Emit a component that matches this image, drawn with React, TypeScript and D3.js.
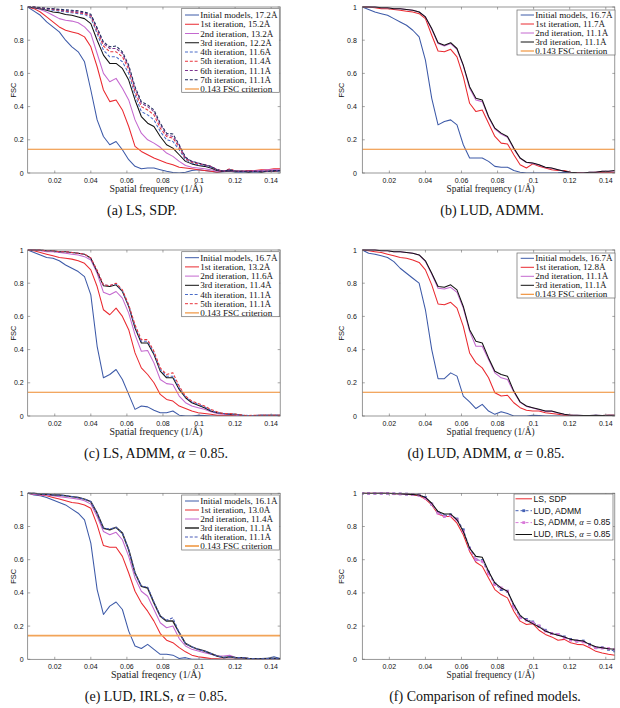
import React from 'react';
import * as d3 from 'd3';

// ---------- data ----------
const FREQ = [0.005, 0.0085, 0.012, 0.0155, 0.019, 0.0225, 0.026, 0.0295, 0.033, 0.0365, 0.04, 0.0435, 0.047, 0.0505, 0.054, 0.0575, 0.061, 0.0645, 0.068, 0.0715, 0.075, 0.0785, 0.082, 0.0855, 0.089, 0.0925, 0.096, 0.0995, 0.103, 0.1065, 0.11, 0.1135, 0.117, 0.1205, 0.124, 0.1275, 0.131, 0.1345, 0.138, 0.1415, 0.145];
const X_TICKS = [0.02, 0.04, 0.06, 0.08, 0.1, 0.12, 0.14];
const X_TICK_LABELS = ['0.02', '0.04', '0.06', '0.08', '0.1', '0.12', '0.14'];
const Y_TICKS = [0, 0.2, 0.4, 0.6, 0.8, 1];
const Y_TICK_LABELS = ['0', '0.2', '0.4', '0.6', '0.8', '1'];
const CRITERION = 0.143;

// (a) LS, SDP
const A_INIT = [1.0, 0.975, 0.95, 0.91, 0.88, 0.85, 0.80, 0.76, 0.73, 0.67, 0.50, 0.32, 0.22, 0.17, 0.19, 0.14, 0.08, 0.04, 0.025, 0.03, 0.03, 0.02, 0.01, 0.003, 0.0, 0.005, 0.015, 0.02, 0.015, 0.01, 0.005, 0.008, 0.01, 0.005, 0.005, 0.008, 0.005, 0.008, 0.01, 0.01, 0.01];
const A_IT1 = [1.0, 0.99, 0.97, 0.94, 0.91, 0.88, 0.86, 0.85, 0.84, 0.82, 0.76, 0.64, 0.50, 0.43, 0.44, 0.38, 0.28, 0.16, 0.13, 0.11, 0.09, 0.075, 0.06, 0.05, 0.035, 0.03, 0.025, 0.02, 0.015, 0.01, 0.005, 0.01, 0.015, 0.01, 0.01, 0.015, 0.015, 0.02, 0.02, 0.025, 0.025];
const A_IT2 = [1.0, 0.995, 0.985, 0.97, 0.95, 0.93, 0.92, 0.915, 0.905, 0.88, 0.84, 0.72, 0.60, 0.55, 0.57, 0.51, 0.44, 0.32, 0.24, 0.20, 0.18, 0.155, 0.12, 0.10, 0.07, 0.045, 0.035, 0.03, 0.025, 0.02, 0.01, 0.015, 0.015, 0.01, 0.01, 0.01, 0.015, 0.015, 0.02, 0.02, 0.02];
const A_IT3 = [1.0, 0.995, 0.99, 0.98, 0.97, 0.965, 0.955, 0.95, 0.94, 0.93, 0.90, 0.80, 0.71, 0.66, 0.66, 0.63, 0.56, 0.44, 0.34, 0.30, 0.28, 0.22, 0.17, 0.15, 0.11, 0.07, 0.055, 0.045, 0.04, 0.03, 0.015, 0.01, 0.015, 0.01, 0.01, 0.005, 0.01, 0.005, 0.01, 0.01, 0.015];
const A_IT4 = [1.0, 0.998, 0.993, 0.985, 0.98, 0.975, 0.97, 0.965, 0.96, 0.955, 0.935, 0.84, 0.74, 0.70, 0.70, 0.67, 0.60, 0.47, 0.37, 0.35, 0.32, 0.25, 0.20, 0.19, 0.14, 0.08, 0.06, 0.05, 0.045, 0.035, 0.02, 0.01, 0.02, 0.01, 0.01, 0.01, 0.008, 0.01, 0.01, 0.012, 0.015];
const A_IT5 = [1.0, 1.0, 0.995, 0.99, 0.985, 0.98, 0.975, 0.97, 0.965, 0.96, 0.945, 0.855, 0.765, 0.73, 0.73, 0.70, 0.625, 0.49, 0.40, 0.38, 0.35, 0.27, 0.22, 0.21, 0.155, 0.085, 0.065, 0.055, 0.05, 0.04, 0.02, 0.01, 0.025, 0.01, 0.01, 0.012, 0.01, 0.01, 0.012, 0.012, 0.015];
const A_IT6 = [1.0, 1.0, 0.995, 0.99, 0.988, 0.983, 0.978, 0.975, 0.97, 0.965, 0.95, 0.865, 0.78, 0.75, 0.75, 0.72, 0.64, 0.51, 0.42, 0.40, 0.37, 0.29, 0.23, 0.22, 0.165, 0.09, 0.07, 0.06, 0.05, 0.04, 0.02, 0.01, 0.02, 0.01, 0.01, 0.01, 0.01, 0.01, 0.01, 0.015, 0.015];
const A_IT7 = [1.0, 1.0, 0.997, 0.993, 0.99, 0.987, 0.983, 0.98, 0.977, 0.97, 0.957, 0.875, 0.79, 0.76, 0.765, 0.73, 0.65, 0.52, 0.43, 0.41, 0.38, 0.30, 0.24, 0.235, 0.17, 0.095, 0.07, 0.06, 0.05, 0.04, 0.02, 0.01, 0.02, 0.01, 0.01, 0.01, 0.01, 0.01, 0.01, 0.015, 0.015];

// (b) LUD, ADMM
const B_INIT = [1.0, 0.985, 0.97, 0.96, 0.95, 0.93, 0.91, 0.89, 0.86, 0.82, 0.68, 0.45, 0.29, 0.31, 0.32, 0.29, 0.17, 0.09, 0.09, 0.09, 0.07, 0.04, 0.035, 0.035, 0.015, 0.005, 0.0, 0.0, 0.0, 0.0, 0.0, 0.002, 0.005, 0.003, 0.0, 0.0, 0.0, 0.002, 0.002, 0.0, 0.0];
const B_IT1 = [1.0, 1.0, 0.995, 0.99, 0.99, 0.985, 0.98, 0.975, 0.97, 0.96, 0.93, 0.83, 0.735, 0.73, 0.745, 0.70, 0.58, 0.42, 0.37, 0.38, 0.30, 0.22, 0.18, 0.175, 0.11, 0.05, 0.03, 0.055, 0.04, 0.03, 0.02, 0.015, 0.015, 0.005, 0.003, 0.0, 0.0, 0.005, 0.005, 0.005, 0.005];
const B_IT2 = [1.0, 1.0, 1.0, 0.995, 0.995, 0.99, 0.99, 0.985, 0.98, 0.97, 0.94, 0.865, 0.78, 0.765, 0.78, 0.745, 0.645, 0.51, 0.44, 0.43, 0.335, 0.265, 0.235, 0.215, 0.145, 0.088, 0.063, 0.058, 0.048, 0.033, 0.028, 0.02, 0.01, 0.005, 0.002, 0.0, 0.005, 0.005, 0.01, 0.01, 0.012];
const B_IT3 = [1.0, 1.0, 1.0, 0.995, 0.995, 0.99, 0.99, 0.985, 0.98, 0.97, 0.94, 0.87, 0.785, 0.77, 0.785, 0.75, 0.65, 0.52, 0.45, 0.44, 0.34, 0.27, 0.24, 0.22, 0.15, 0.09, 0.065, 0.06, 0.05, 0.035, 0.03, 0.02, 0.01, 0.005, 0.002, 0.0, 0.005, 0.005, 0.01, 0.01, 0.015];

// (c) LS, ADMM, alpha = 0.85
const C_INIT = [1.0, 0.985, 0.97, 0.955, 0.95, 0.935, 0.91, 0.89, 0.87, 0.84, 0.73, 0.42, 0.23, 0.25, 0.28, 0.22, 0.13, 0.04, 0.06, 0.055, 0.035, 0.02, 0.02, 0.03, 0.005, 0.0, 0.0, 0.005, 0.003, 0.0, 0.0, 0.0, 0.0, 0.0, 0.0, 0.0, 0.0, 0.0, 0.0, 0.0, 0.0];
const C_IT1 = [1.0, 0.995, 0.985, 0.975, 0.965, 0.955, 0.95, 0.945, 0.935, 0.92, 0.88, 0.78, 0.64, 0.61, 0.65, 0.60, 0.52, 0.38, 0.29, 0.25, 0.20, 0.13, 0.10, 0.09, 0.06, 0.045, 0.03, 0.02, 0.015, 0.01, 0.005, 0.005, 0.005, 0.002, 0.0, 0.0, 0.0, 0.0, 0.0, 0.0, 0.0];
const C_IT2 = [1.0, 1.0, 0.995, 0.99, 0.99, 0.985, 0.98, 0.975, 0.97, 0.96, 0.94, 0.86, 0.745, 0.73, 0.75, 0.71, 0.62, 0.49, 0.39, 0.395, 0.32, 0.22, 0.195, 0.19, 0.12, 0.08, 0.06, 0.05, 0.04, 0.025, 0.015, 0.01, 0.01, 0.005, 0.003, 0.0, 0.003, 0.005, 0.005, 0.005, 0.005];
const C_IT3 = [1.0, 1.0, 1.0, 0.995, 0.995, 0.99, 0.99, 0.985, 0.98, 0.975, 0.95, 0.87, 0.785, 0.78, 0.79, 0.75, 0.66, 0.53, 0.44, 0.44, 0.37, 0.27, 0.23, 0.23, 0.16, 0.11, 0.08, 0.065, 0.05, 0.03, 0.02, 0.015, 0.01, 0.01, 0.005, 0.002, 0.003, 0.005, 0.005, 0.005, 0.005];
const C_IT4 = [1.0, 1.0, 1.0, 0.995, 0.995, 0.99, 0.99, 0.985, 0.98, 0.975, 0.95, 0.875, 0.79, 0.785, 0.795, 0.755, 0.665, 0.54, 0.45, 0.45, 0.38, 0.28, 0.24, 0.24, 0.17, 0.115, 0.085, 0.07, 0.055, 0.035, 0.02, 0.015, 0.012, 0.01, 0.005, 0.003, 0.003, 0.005, 0.005, 0.005, 0.005];
const C_IT5 = [1.0, 1.0, 1.0, 0.995, 0.995, 0.99, 0.99, 0.985, 0.98, 0.975, 0.952, 0.878, 0.79, 0.785, 0.80, 0.76, 0.67, 0.55, 0.46, 0.46, 0.39, 0.29, 0.25, 0.26, 0.18, 0.12, 0.09, 0.075, 0.06, 0.04, 0.025, 0.015, 0.015, 0.01, 0.005, 0.003, 0.005, 0.005, 0.005, 0.005, 0.005];

// (d) LUD, ADMM, alpha = 0.85
const D_INIT = [1.0, 0.98, 0.975, 0.965, 0.955, 0.93, 0.89, 0.86, 0.83, 0.80, 0.64, 0.40, 0.225, 0.225, 0.26, 0.24, 0.12, 0.085, 0.045, 0.07, 0.03, 0.01, 0.025, 0.015, 0.0, 0.0, 0.0, 0.005, 0.003, 0.0, 0.0, 0.0, 0.0, 0.0, 0.0, 0.0, 0.0, 0.005, 0.0, 0.0, 0.0];
const D_IT1 = [1.0, 0.995, 0.99, 0.985, 0.975, 0.965, 0.955, 0.95, 0.94, 0.925, 0.88, 0.79, 0.675, 0.67, 0.685, 0.65, 0.54, 0.38, 0.32, 0.29, 0.23, 0.14, 0.12, 0.125, 0.08, 0.05, 0.035, 0.03, 0.03, 0.02, 0.015, 0.01, 0.005, 0.005, 0.002, 0.0, 0.0, 0.002, 0.003, 0.005, 0.005];
const D_IT2 = [1.0, 1.0, 1.0, 0.995, 0.995, 0.99, 0.99, 0.985, 0.98, 0.97, 0.93, 0.855, 0.77, 0.765, 0.775, 0.745, 0.65, 0.51, 0.42, 0.42, 0.34, 0.26, 0.23, 0.22, 0.145, 0.082, 0.058, 0.048, 0.038, 0.028, 0.028, 0.018, 0.01, 0.005, 0.005, 0.003, 0.003, 0.005, 0.003, 0.005, 0.005];
const D_IT3 = [1.0, 1.0, 1.0, 0.995, 0.995, 0.99, 0.99, 0.985, 0.98, 0.97, 0.935, 0.86, 0.78, 0.775, 0.79, 0.76, 0.66, 0.52, 0.45, 0.44, 0.35, 0.27, 0.25, 0.24, 0.15, 0.085, 0.06, 0.05, 0.04, 0.03, 0.03, 0.02, 0.01, 0.005, 0.005, 0.003, 0.003, 0.005, 0.003, 0.005, 0.005];

// (e) LUD, IRLS, alpha = 0.85
const E_INIT = [1.0, 0.99, 0.985, 0.975, 0.96, 0.945, 0.93, 0.905, 0.88, 0.84, 0.70, 0.42, 0.27, 0.32, 0.345, 0.30, 0.17, 0.08, 0.065, 0.09, 0.06, 0.03, 0.03, 0.025, 0.005, 0.01, 0.0, 0.0, 0.0, 0.0, 0.0, 0.0, 0.0, 0.0, 0.0, 0.0, 0.0, 0.0, 0.005, 0.015, 0.005];
const E_IT1 = [1.0, 0.995, 0.99, 0.985, 0.975, 0.965, 0.955, 0.945, 0.94, 0.93, 0.91, 0.81, 0.685, 0.675, 0.675, 0.62, 0.52, 0.41, 0.34, 0.29, 0.23, 0.155, 0.115, 0.10, 0.07, 0.045, 0.025, 0.015, 0.01, 0.005, 0.003, 0.0, 0.0, 0.0, 0.0, 0.0, 0.0, 0.0, 0.0, 0.0, 0.0];
const E_IT2 = [1.0, 0.995, 0.99, 0.99, 0.985, 0.98, 0.975, 0.97, 0.965, 0.955, 0.935, 0.86, 0.77, 0.75, 0.765, 0.72, 0.62, 0.49, 0.41, 0.38, 0.30, 0.22, 0.19, 0.20, 0.125, 0.08, 0.06, 0.05, 0.04, 0.03, 0.02, 0.02, 0.025, 0.01, 0.01, 0.005, 0.003, 0.0, 0.0, 0.0, 0.0];
const E_IT3 = [1.0, 1.0, 0.995, 0.995, 0.99, 0.99, 0.985, 0.98, 0.975, 0.965, 0.95, 0.88, 0.79, 0.78, 0.795, 0.76, 0.66, 0.52, 0.44, 0.43, 0.34, 0.26, 0.23, 0.23, 0.16, 0.095, 0.075, 0.06, 0.05, 0.035, 0.02, 0.01, 0.015, 0.01, 0.01, 0.005, 0.003, 0.003, 0.005, 0.005, 0.003];
const E_IT4 = [1.0, 1.0, 0.995, 0.995, 0.99, 0.99, 0.985, 0.98, 0.975, 0.965, 0.95, 0.88, 0.79, 0.785, 0.795, 0.76, 0.66, 0.52, 0.44, 0.435, 0.345, 0.26, 0.235, 0.25, 0.16, 0.095, 0.075, 0.06, 0.05, 0.035, 0.02, 0.012, 0.015, 0.01, 0.01, 0.005, 0.003, 0.003, 0.005, 0.005, 0.003];

// (f) comparison of refined models
const F_LS_SDP = [1.0, 1.0, 1.0, 1.0, 1.0, 0.998, 0.997, 0.995, 0.99, 0.985, 0.965, 0.93, 0.875, 0.86, 0.86, 0.82, 0.75, 0.65, 0.585, 0.56, 0.49, 0.42, 0.39, 0.37, 0.29, 0.23, 0.21, 0.215, 0.175, 0.15, 0.135, 0.115, 0.12, 0.10, 0.09, 0.088, 0.07, 0.048, 0.038, 0.03, 0.025];
const F_LUD_ADMM = [1.0, 1.0, 1.0, 1.0, 1.0, 0.998, 0.997, 0.995, 0.993, 0.99, 0.975, 0.935, 0.885, 0.865, 0.87, 0.845, 0.78, 0.67, 0.60, 0.595, 0.525, 0.455, 0.42, 0.41, 0.32, 0.255, 0.24, 0.225, 0.2, 0.175, 0.155, 0.15, 0.135, 0.12, 0.11, 0.11, 0.09, 0.07, 0.07, 0.06, 0.05];
const F_LS_ADMM = [1.0, 1.0, 1.0, 1.0, 1.0, 0.998, 0.997, 0.995, 0.993, 0.988, 0.97, 0.935, 0.88, 0.86, 0.865, 0.84, 0.77, 0.665, 0.60, 0.59, 0.515, 0.45, 0.43, 0.41, 0.315, 0.25, 0.235, 0.22, 0.2, 0.17, 0.155, 0.15, 0.13, 0.115, 0.11, 0.105, 0.085, 0.07, 0.068, 0.065, 0.06];
const F_LUD_IRLS = [1.0, 1.0, 1.0, 1.0, 1.0, 0.998, 0.997, 0.995, 0.993, 0.99, 0.975, 0.94, 0.89, 0.875, 0.875, 0.84, 0.77, 0.67, 0.62, 0.615, 0.53, 0.46, 0.43, 0.41, 0.33, 0.265, 0.235, 0.215, 0.195, 0.17, 0.155, 0.145, 0.135, 0.12, 0.115, 0.11, 0.09, 0.075, 0.07, 0.063, 0.06];

// ---------- styles / layout ----------
const SERIF = "'Liberation Serif', 'Times New Roman', serif";
const SANS = "'Liberation Sans', Arial, sans-serif";
const X_DOMAIN = [0.005, 0.145];
const PLOT_W = 252.5;
const PLOT_H = 166;

const C_BLUE = '#3d5aa8';
const C_RED = '#ea2a30';
const C_MAG = '#c468cf';
const C_BLACK = '#111111';
const C_ORANGE = '#ee8a2c';
const DASH = '3,1.8';

type Series = { label: string; values: number[]; color: string; width?: number; dash?: string; marker?: boolean };
type PanelDef = {
  id: string; left: number; top: number; series: Series[]; criterion?: { color: string; width: number };
  legend: { x: number; y: number; w: number; rowH: number; padTop: number; h: number; font: string; size: number; sx0: number; sx1: number; tx: number };
  caption: string; capX: number; xlabel: string; xlabW: number; ylabX: number; yTickGap: number;
};

const PANELS: PanelDef[] = [
  {
    id: 'a', left: 27.7, top: 7, ylabX: 13.5, yTickGap: 4,
    series: [
      { label: 'Initial models, 17.2Å', values: A_INIT, color: C_BLUE },
      { label: '1st iteration, 15.2Å', values: A_IT1, color: C_RED },
      { label: '2nd iteration, 13.2Å', values: A_IT2, color: C_MAG },
      { label: '3rd iteration, 12.2Å', values: A_IT3, color: C_BLACK },
      { label: '4th iteration, 11.6Å', values: A_IT4, color: '#4a6cc8', dash: DASH },
      { label: '5th iteration, 11.4Å', values: A_IT5, color: '#e8343c', dash: DASH },
      { label: '6th iteration, 11.1Å', values: A_IT6, color: '#7d3590', dash: DASH },
      { label: '7th iteration, 11.1Å', values: A_IT7, color: '#1c2a5c', dash: DASH },
    ],
    criterion: { color: C_ORANGE, width: 1.1 },
    legend: { x: 181.7, y: 8.3, w: 97.6, rowH: 9.25, padTop: 6.7, h: 84, font: SERIF, size: 9.1, sx0: 3.3, sx1: 17.3, tx: 18.5 },
    caption: '(a) LS, SDP.', capX: 142, xlabel: 'Spatial frequency (1/Å)', xlabW: 93,
  },
  {
    id: 'b', left: 362.3, top: 7, ylabX: 341, yTickGap: 5.5,
    series: [
      { label: 'Initial models, 16.7Å', values: B_INIT, color: C_BLUE },
      { label: '1st iteration, 11.7Å', values: B_IT1, color: C_RED },
      { label: '2nd iteration, 11.1Å', values: B_IT2, color: C_MAG },
      { label: '3rd iteration, 11.1Å', values: B_IT3, color: C_BLACK },
    ],
    criterion: { color: C_ORANGE, width: 1.1 },
    legend: { x: 517, y: 10, w: 98, rowH: 9, padTop: 5, h: 45, font: SERIF, size: 9.1, sx0: 3.7, sx1: 17, tx: 18.3 },
    caption: '(b) LUD, ADMM.', capX: 492, xlabel: 'Spatial frequency (1/Å)', xlabW: 88,
  },
  {
    id: 'c', left: 27.7, top: 250, ylabX: 13.5, yTickGap: 4,
    series: [
      { label: 'Initial models, 16.7Å', values: C_INIT, color: C_BLUE },
      { label: '1st iteration, 13.2Å', values: C_IT1, color: C_RED },
      { label: '2nd iteration, 11.6Å', values: C_IT2, color: C_MAG },
      { label: '3rd iteration, 11.4Å', values: C_IT3, color: C_BLACK },
      { label: '4th iteration, 11.1Å', values: C_IT4, color: '#4a6cc8', dash: DASH },
      { label: '5th iteration, 11.1Å', values: C_IT5, color: '#e8343c', dash: DASH },
    ],
    criterion: { color: C_ORANGE, width: 1.1 },
    legend: { x: 181.7, y: 251.7, w: 97.6, rowH: 9.2, padTop: 6, h: 65, font: SERIF, size: 9.1, sx0: 3.3, sx1: 17.3, tx: 18.5 },
    caption: '(c) LS, ADMM, α = 0.85.', capX: 156, xlabel: 'Spatial frequency (1/Å)', xlabW: 93,
  },
  {
    id: 'd', left: 362.3, top: 250, ylabX: 341, yTickGap: 5.5,
    series: [
      { label: 'Initial models, 16.7Å', values: D_INIT, color: C_BLUE },
      { label: '1st iteration, 12.8Å', values: D_IT1, color: C_RED },
      { label: '2nd iteration, 11.1Å', values: D_IT2, color: C_MAG },
      { label: '3rd iteration, 11.1Å', values: D_IT3, color: C_BLACK },
    ],
    criterion: { color: C_ORANGE, width: 1.1 },
    legend: { x: 517, y: 253, w: 98, rowH: 9, padTop: 5.3, h: 45, font: SERIF, size: 9.1, sx0: 3.7, sx1: 17, tx: 18.3 },
    caption: '(d) LUD, ADMM, α = 0.85.', capX: 486, xlabel: 'Spatial frequency (1/Å)', xlabW: 88,
  },
  {
    id: 'e', left: 27.7, top: 493.3, ylabX: 13.5, yTickGap: 4,
    series: [
      { label: 'Initial models, 16.1Å', values: E_INIT, color: C_BLUE },
      { label: '1st iteration, 13.0Å', values: E_IT1, color: C_RED },
      { label: '2nd iteration, 11.4Å', values: E_IT2, color: C_MAG },
      { label: '3rd iteration, 11.1Å', values: E_IT3, color: '#2a2a2a', width: 1.5 },
      { label: '4th iteration, 11.1Å', values: E_IT4, color: '#4a5cb8', dash: DASH },
    ],
    criterion: { color: '#f2a458', width: 1.8 },
    legend: { x: 181.7, y: 495, w: 97.6, rowH: 9, padTop: 6, h: 55, font: SERIF, size: 9.1, sx0: 3.3, sx1: 17.3, tx: 18.5 },
    caption: '(e) LUD, IRLS, α = 0.85.', capX: 156, xlabel: 'Spatial freqency (1/Å)', xlabW: 90,
  },
  {
    id: 'f', left: 362.3, top: 493.3, ylabX: 341, yTickGap: 5.5,
    series: [
      { label: 'LS, SDP', values: F_LS_SDP, color: C_RED },
      { label: 'LUD, ADMM', values: F_LUD_ADMM, color: '#4662b4', dash: '3,2', marker: true },
      { label: 'LS, ADMM, α = 0.85', values: F_LS_ADMM, color: '#d97ad9', dash: '3,2', marker: true },
      { label: 'LUD, IRLS, α = 0.85', values: F_LUD_IRLS, color: C_BLACK },
    ],
    legend: { x: 514, y: 494, w: 99, rowH: 11.9, padTop: 4.8, h: 46, font: SANS, size: 8.6, sx0: 1.5, sx1: 18, tx: 19.5 },
    caption: '(f) Comparison of refined models.', capX: 485, xlabel: 'Spatial frequency (1/Å)', xlabW: 88,
  },
];

function withAlpha(text: string) {
  const parts = text.split('α');
  const out: React.ReactNode[] = [];
  parts.forEach((p, i) => {
    if (i > 0) out.push(<tspan key={'a' + i} fontFamily={SERIF} fontStyle="italic">α</tspan>);
    out.push(<tspan key={'p' + i}>{p}</tspan>);
  });
  return out;
}

function Panel({ p }: { p: PanelDef }) {
  const x = d3.scaleLinear().domain(X_DOMAIN).range([p.left, p.left + PLOT_W]);
  const y = d3.scaleLinear().domain([0, 1]).range([p.top + PLOT_H, p.top]);
  const line = d3.line<number>().x((_, i) => x(FREQ[i])).y((d) => y(d));
  const bottom = p.top + PLOT_H;
  const right = p.left + PLOT_W;
  const clipId = `clip-${p.id}`;
  const L = p.legend;
  const legendItems: { label: string; color: string; width: number; dash?: string; marker?: boolean }[] = p.series.map((s) => ({
    label: s.label, color: s.color, width: s.width ?? 1, dash: s.dash, marker: s.marker,
  }));
  if (p.criterion) legendItems.push({ label: '0.143 FSC criterion', color: p.criterion.color, width: p.criterion.width });
  const tickLen = 2.5;
  const axisColor = '#6a6a6a';
  return (
    <g>
      <defs>
        <clipPath id={clipId}>
          <rect x={p.left} y={p.top - 1} width={PLOT_W} height={PLOT_H + 1} />
        </clipPath>
      </defs>
      <g clipPath={`url(#${clipId})`}>
        {p.series.map((s, i) => (
          <g key={i}>
            <path d={line(s.values) || ''} fill="none" stroke={s.color} strokeWidth={s.width ?? 1.05}
              strokeDasharray={s.dash} strokeLinejoin="round" />
            {s.marker && s.values.map((v, j) => (
              <rect key={j} x={x(FREQ[j]) - 1.4} y={y(v) - 1.4} width={2.8} height={2.8} fill={s.color} />
            ))}
          </g>
        ))}
        {p.criterion && (
          <line x1={x(X_DOMAIN[0])} x2={x(X_DOMAIN[1])} y1={y(CRITERION)} y2={y(CRITERION)}
            stroke={p.criterion.color} strokeWidth={p.criterion.width} />
        )}
      </g>
      <rect x={p.left} y={p.top} width={PLOT_W} height={PLOT_H} fill="none" stroke={axisColor} strokeWidth={0.7} />
      {X_TICKS.map((t, i) => (
        <g key={'xt' + i}>
          <line x1={x(t)} x2={x(t)} y1={bottom} y2={bottom - tickLen} stroke={axisColor} strokeWidth={0.6} />
          <line x1={x(t)} x2={x(t)} y1={p.top} y2={p.top + tickLen} stroke={axisColor} strokeWidth={0.6} />
          <text x={x(t)} y={bottom + 9.5} textAnchor="middle" fontFamily={SANS} fontSize={7} fill="#111">{X_TICK_LABELS[i]}</text>
        </g>
      ))}
      {Y_TICKS.map((t, i) => (
        <g key={'yt' + i}>
          <line x1={p.left} x2={p.left + tickLen} y1={y(t)} y2={y(t)} stroke={axisColor} strokeWidth={0.6} />
          <line x1={right} x2={right - tickLen} y1={y(t)} y2={y(t)} stroke={axisColor} strokeWidth={0.6} />
          <text x={p.left - p.yTickGap} y={y(t) + 2.5} textAnchor="end" fontFamily={SANS} fontSize={7} fill="#111">{Y_TICK_LABELS[i]}</text>
        </g>
      ))}
      <text x={(p.left + right) / 2 + 2} y={bottom + 19} textAnchor="middle" fontFamily={SERIF} fontSize={9.4}
        textLength={p.xlabW} lengthAdjust="spacingAndGlyphs" fill="#222">{p.xlabel}</text>
      <text transform={`translate(${p.ylabX},${(p.top + bottom) / 2}) rotate(-90)`} textAnchor="middle" dy="0.35em"
        fontFamily={SANS} fontSize={7.5} fill="#111">FSC</text>
      <rect x={L.x} y={L.y} width={L.w} height={L.h} fill="#fff" stroke={axisColor} strokeWidth={0.7} />
      {legendItems.map((it, i) => {
        const cy = L.y + L.padTop + i * L.rowH;
        return (
          <g key={'lg' + i}>
            <line x1={L.x + L.sx0} x2={L.x + L.sx1} y1={cy} y2={cy} stroke={it.color} strokeWidth={it.width} strokeDasharray={it.dash} />
            {it.marker && <rect x={(2 * L.x + L.sx0 + L.sx1) / 2 - 1.4} y={cy - 1.4} width={2.8} height={2.8} fill={it.color} />}
            <text x={L.x + L.tx} y={cy + L.size * 0.33} fontFamily={L.font} fontSize={L.size} fill="#111">{withAlpha(it.label)}</text>
          </g>
        );
      })}
      <text x={p.capX} y={bottom + 42} textAnchor="middle" fontFamily={SERIF} fontSize={14} fill="#111">{withAlpha(p.caption)}</text>
    </g>
  );
}

export default function App() {
  return (
    <svg width={620} height={708} viewBox="0 0 620 708" style={{ position: 'absolute', left: 0, top: 0, background: '#fff' }}
      xmlns="http://www.w3.org/2000/svg">
      <rect x={0} y={0} width={620} height={708} fill="#fff" />
      {PANELS.map((p) => <Panel key={p.id} p={p} />)}
    </svg>
  );
}
